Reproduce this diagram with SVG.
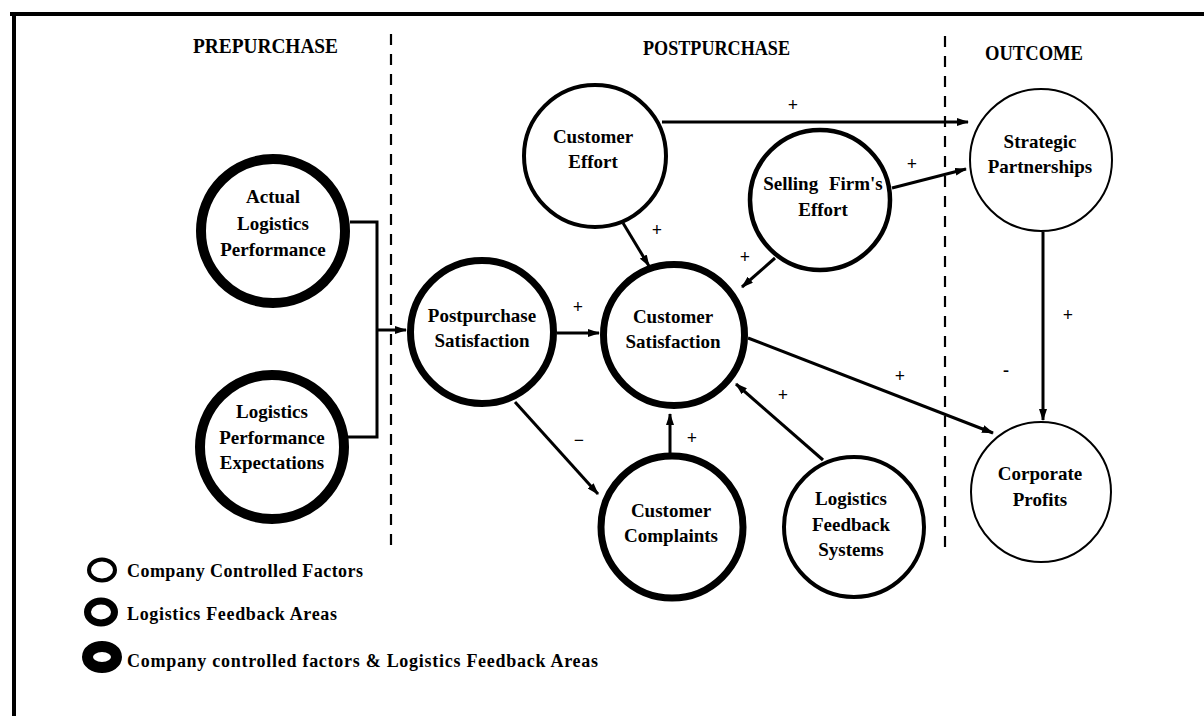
<svg xmlns="http://www.w3.org/2000/svg" width="1204" height="716" viewBox="0 0 1204 716">
<style>
text{font-family:"Liberation Serif","Times New Roman",serif;font-weight:bold;fill:#000}
.lbl{font-size:19px;text-anchor:middle}
.hdr{font-size:20px}
.sgn{font-size:18px;text-anchor:middle}
.leg{font-size:18px}
.node{fill:#fff;stroke:#000}
.c{fill:none;stroke:#000;stroke-width:3}
.dash{stroke:#000;stroke-width:2.2;stroke-dasharray:11 9}
</style>
<defs>
<marker id="ah" markerUnits="userSpaceOnUse" markerWidth="12" markerHeight="8" refX="11" refY="4" orient="auto">
<path d="M0,0 L12,4 L0,8 z" fill="#000"/>
</marker>
</defs>
<rect width="1204" height="716" fill="#fff"/>
<g id="frame">
<line x1="10" y1="14" x2="1204" y2="14" stroke="#000" stroke-width="4"/>
<line x1="14" y1="12" x2="14" y2="716" stroke="#000" stroke-width="4"/>
<line class="dash" x1="391" y1="34" x2="391" y2="552"/>
<line class="dash" x1="945" y1="36" x2="945" y2="552"/>
</g>
<g id="headers">
<text class="hdr" x="193" y="53" font-size="21" textLength="145" lengthAdjust="spacingAndGlyphs">PREPURCHASE</text>
<text class="hdr" x="643" y="55" textLength="147" lengthAdjust="spacingAndGlyphs">POSTPURCHASE</text>
<text class="hdr" x="985" y="60" textLength="98" lengthAdjust="spacingAndGlyphs">OUTCOME</text>
</g>
<g id="connectors">
<polyline class="c" points="350,222 377,222 377,437 348,437"/>
<line class="c" x1="377" y1="330" x2="406" y2="330" marker-end="url(#ah)"/>
<line class="c" x1="662" y1="122" x2="968" y2="122" marker-end="url(#ah)"/>
<line class="c" x1="892" y1="188" x2="966" y2="169" marker-end="url(#ah)"/>
<line class="c" x1="623" y1="223" x2="649" y2="266" marker-end="url(#ah)"/>
<line class="c" x1="775" y1="258" x2="742" y2="287" marker-end="url(#ah)"/>
<line class="c" x1="557" y1="333" x2="599" y2="333" marker-end="url(#ah)"/>
<line class="c" x1="748" y1="338" x2="993" y2="433" marker-end="url(#ah)"/>
<line class="c" x1="515" y1="402" x2="598" y2="494" marker-end="url(#ah)"/>
<line class="c" x1="670" y1="453" x2="670" y2="414" marker-end="url(#ah)"/>
<line class="c" x1="823" y1="460" x2="736" y2="384" marker-end="url(#ah)"/>
<line class="c" x1="1043" y1="232" x2="1043" y2="420" marker-end="url(#ah)"/>
</g>
<g id="signs">
<text class="sgn" x="793" y="111">+</text>
<text class="sgn" x="912" y="170">+</text>
<text class="sgn" x="657" y="236">+</text>
<text class="sgn" x="745" y="263">+</text>
<text class="sgn" x="578" y="313">+</text>
<text class="sgn" x="900" y="382">+</text>
<text class="sgn" x="783" y="401">+</text>
<text class="sgn" x="692" y="444">+</text>
<text class="sgn" x="579" y="446">−</text>
<text class="sgn" x="1068" y="321">+</text>
<text class="sgn" x="1006" y="376">-</text>
</g>
<g id="actual-logistics-performance">
<circle class="node" cx="273" cy="231" r="72" stroke-width="10"/>
<text class="lbl" x="273" y="203">Actual</text>
<text class="lbl" x="273" y="230">Logistics</text>
<text class="lbl" x="273" y="256">Performance</text>
</g>
<g id="logistics-performance-expectations">
<circle class="node" cx="272" cy="447" r="72" stroke-width="10"/>
<text class="lbl" x="272" y="418">Logistics</text>
<text class="lbl" x="272" y="444">Performance</text>
<text class="lbl" x="272" y="469">Expectations</text>
</g>
<g id="postpurchase-satisfaction">
<circle class="node" cx="482" cy="332" r="71.5" stroke-width="7"/>
<text class="lbl" x="482" y="322">Postpurchase</text>
<text class="lbl" x="482" y="347">Satisfaction</text>
</g>
<g id="customer-satisfaction">
<circle class="node" cx="674" cy="335" r="70.5" stroke-width="7"/>
<text class="lbl" x="673" y="323">Customer</text>
<text class="lbl" x="673" y="348">Satisfaction</text>
</g>
<g id="customer-effort">
<circle class="node" cx="595" cy="156" r="71" stroke-width="4"/>
<text class="lbl" x="593" y="143">Customer</text>
<text class="lbl" x="593" y="168">Effort</text>
</g>
<g id="selling-firms-effort">
<circle class="node" cx="820" cy="200" r="70" stroke-width="4.5"/>
<text class="lbl" x="823" y="190" word-spacing="6">Selling Firm's</text>
<text class="lbl" x="823" y="216">Effort</text>
</g>
<g id="strategic-partnerships">
<circle class="node" cx="1041" cy="160" r="71" stroke-width="2"/>
<text class="lbl" x="1040" y="148">Strategic</text>
<text class="lbl" x="1040" y="173">Partnerships</text>
</g>
<g id="corporate-profits">
<circle class="node" cx="1041" cy="492" r="70" stroke-width="2"/>
<text class="lbl" x="1040" y="480">Corporate</text>
<text class="lbl" x="1040" y="506">Profits</text>
</g>
<g id="customer-complaints">
<circle class="node" cx="672" cy="527" r="71" stroke-width="7"/>
<text class="lbl" x="671" y="517">Customer</text>
<text class="lbl" x="671" y="542">Complaints</text>
</g>
<g id="logistics-feedback-systems">
<circle class="node" cx="854" cy="527" r="70" stroke-width="4"/>
<text class="lbl" x="851" y="505">Logistics</text>
<text class="lbl" x="851" y="531">Feedback</text>
<text class="lbl" x="851" y="556">Systems</text>
</g>
<g id="legend">
<ellipse class="node" cx="102" cy="570" rx="13" ry="10.5" stroke-width="4"/>
<text class="leg" x="127" y="577" textLength="236" lengthAdjust="spacing">Company Controlled Factors</text>
<ellipse class="node" cx="101" cy="612" rx="13.5" ry="11" stroke-width="7"/>
<text class="leg" x="127" y="620" textLength="210" lengthAdjust="spacing">Logistics Feedback Areas</text>
<ellipse class="node" cx="102" cy="657" rx="14.5" ry="10.5" stroke-width="11"/>
<text class="leg" x="127" y="667" textLength="471" lengthAdjust="spacing">Company controlled factors &amp; Logistics Feedback Areas</text>
</g>
</svg>
